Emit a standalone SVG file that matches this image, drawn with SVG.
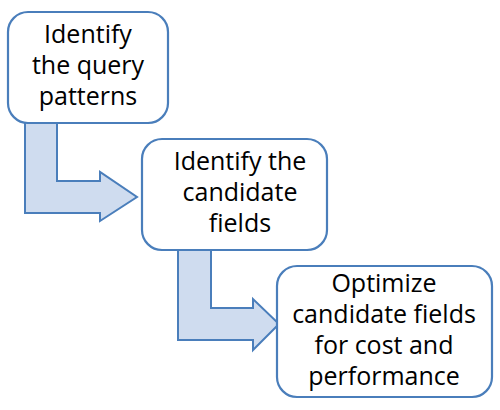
<svg xmlns="http://www.w3.org/2000/svg" width="500" height="410" viewBox="0 0 500 410">
<style>
.box{fill:#ffffff;stroke:#4a7ebb;stroke-width:2.2}
.arr{fill:#cfdcef;stroke:#4a7ebb;stroke-width:2}
text{font-family:"Open Sans","Liberation Sans",sans-serif;font-size:25px;fill:#000000;text-anchor:middle;font-variant-ligatures:none}
</style>
<rect width="500" height="410" fill="#ffffff"/>
<g id="connectors">
<path class="arr" d="M25,120 L57,120 L57,181 L100,181 L100,172 L137,197 L100,221 L100,213 L25,213 Z"/>
<path class="arr" d="M178,248 L211,248 L211,308 L253,308 L253,299 L279,324 L253,350 L253,340 L178,340 Z"/>
</g>
<g id="node1">
<rect class="box" x="8" y="12" width="160" height="111" rx="20"/>
<text x="88" y="43">Identify</text>
<text x="88" y="74">the query</text>
<text x="88" y="105">patterns</text>
</g>
<g id="node2">
<rect class="box" x="142" y="139" width="185" height="111" rx="20"/>
<text x="240" y="170">Identify the</text>
<text x="240" y="201">candidate</text>
<text x="240" y="232">fields</text>
</g>
<g id="node3">
<rect class="box" x="277" y="266" width="215" height="131" rx="20"/>
<text x="384" y="292">Optimize</text>
<text x="384" y="323">candidate fields</text>
<text x="384" y="354">for cost and</text>
<text x="384" y="385">performance</text>
</g>
</svg>
